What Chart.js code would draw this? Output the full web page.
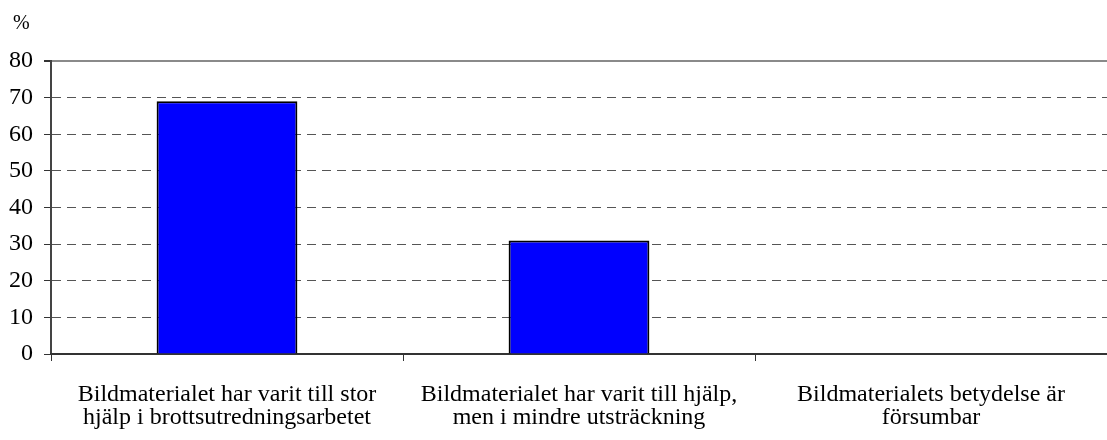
<!DOCTYPE html>
<html>
<head>
<meta charset="utf-8">
<script src="https://cdn.jsdelivr.net/npm/chart.js@4/dist/chart.umd.min.js"></script>
<style>
    html, body { margin: 0; padding: 0; background: #fff; }
    #wrap { width: 1107px; height: 440px; position: relative; overflow: hidden; }
    #unit { position: absolute; left: 13px; top: 12px; font: 20px 'Liberation Serif', serif; color: #000; line-height: 20px; }
</style>
</head>
<body>
<div id="wrap"><canvas id="c" width="1107" height="440"></canvas><div id="unit"></div></div>
<script>
"use strict";
var categories = [
    ['Bildmaterialet har varit till stor', 'hjälp i brottsutredningsarbetet'],
    ['Bildmaterialet har varit till hjälp,', 'men i mindre utsträckning'],
    ['Bildmaterialets betydelse är', 'försumbar']
];
var values = [69, 31, 0];
var yTicks = [0, 10, 20, 30, 40, 50, 60, 70, 80];
var unitLabel = '%';

var serif = "'Liberation Serif', serif";
document.getElementById('unit').textContent = unitLabel;

new Chart(document.getElementById('c'), {
    type: 'bar',
    data: {
        labels: categories,
        datasets: [{
            data: values,
            backgroundColor: '#0000FF',
            borderColor: '#000',
            borderWidth: 2,
            categoryPercentage: 1,
            barPercentage: 0.4
        }]
    },
    options: {
        responsive: false,
        animation: false,
        layout: { padding: { left: 0, right: -7, top: 61, bottom: 0 } },
        plugins: {
            legend: { display: false },
            tooltip: { enabled: false }
        },
        scales: {
            y: {
                min: yTicks[0],
                max: yTicks[yTicks.length - 1],
                afterBuildTicks: function (s) { s.ticks = yTicks.map(function (v) { return { value: v }; }); },
                afterFit: function (s) { s.width = 51; },
                ticks: { color: '#000', padding: 11, font: { family: serif, size: 24 } },
                grid: {
                    color: function (ctx) {
                        if (!ctx.tick) return '#666';
                        if (ctx.tick.value === 0) return 'rgba(0,0,0,0)';
                        return ctx.tick.value === 80 ? '#8a8a8a' : '#555';
                    },
                    lineWidth: function (ctx) { return ctx.tick && ctx.tick.value === 80 ? 2 : 1; },
                    tickColor: '#333',
                    tickLength: 7
                },
                border: {
                    color: '#444',
                    width: 2,
                    dash: function (ctx) { return ctx.tick && ctx.tick.value !== 80 ? [9, 6] : []; }
                }
            },
            x: {
                afterFit: function (s) { s.height = 86; },
                ticks: { color: '#000', padding: 22, maxRotation: 0, autoSkip: false, font: { family: serif, size: 24, lineHeight: 0.96 } },
                grid: { offset: true, drawOnChartArea: false, color: '#333', tickLength: 7 },
                border: { color: '#333', width: 2 }
            }
        }
    }
});
</script>
</body>
</html>
